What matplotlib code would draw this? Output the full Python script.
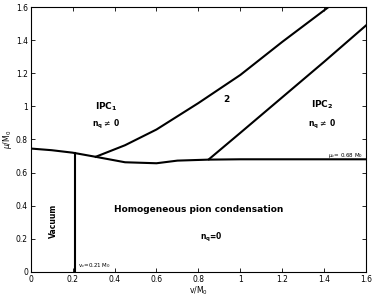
import matplotlib
matplotlib.use("Agg")
import matplotlib.pyplot as plt

# critical line mu_c(v) separating vacuum/IPC from homogeneous phase
crit_v = [0.0, 0.1, 0.2, 0.31, 0.45, 0.6, 0.7, 0.85, 1.0, 1.2, 1.4, 1.6]
crit_mu = [0.745, 0.735, 0.72, 0.695, 0.662, 0.656, 0.672, 0.678, 0.68, 0.68, 0.68, 0.68]

# IPC1 / phase-2 boundary
ipc1_v = [0.31, 0.45, 0.6, 0.8, 1.0, 1.2, 1.42]
ipc1_mu = [0.695, 0.765, 0.86, 1.02, 1.19, 1.39, 1.6]

# phase-2 / IPC2 boundary
ipc2_v = [0.85, 1.0, 1.2, 1.4, 1.6]
ipc2_mu = [0.68, 0.84, 1.055, 1.27, 1.49]

# vacuum boundary v_c
vac_v = [0.21, 0.21]
vac_mu = [0.0, 0.72]

fig, ax = plt.subplots(figsize=(3.74, 2.97), dpi=100)
fig.subplots_adjust(left=0.082, right=0.979, top=0.976, bottom=0.085)

for xs, ys in [(crit_v, crit_mu), (ipc1_v, ipc1_mu), (ipc2_v, ipc2_mu), (vac_v, vac_mu)]:
    ax.plot(xs, ys, color="k", lw=1.5)

ax.set_xlim(0, 1.6)
ax.set_ylim(0, 1.6)
ax.set_xticks([0, 0.2, 0.4, 0.6, 0.8, 1, 1.2, 1.4, 1.6])
ax.set_yticks([0, 0.2, 0.4, 0.6, 0.8, 1, 1.2, 1.4, 1.6])
ax.set_xticklabels(["0", "0.2", "0.4", "0.6", "0.8", "1", "1.2", "1.4", "1.6"])
ax.set_yticklabels(["0", "0.2", "0.4", "0.6", "0.8", "1", "1.2", "1.4", "1.6"])
ax.tick_params(direction="in", top=True, right=True, labelsize=5.5, length=3, width=0.6, pad=2)
for s in ax.spines.values():
    s.set_linewidth(0.8)

ax.set_xlabel(r"v/M$_0$", fontsize=5.5, labelpad=1)
ax.set_ylabel(r"$\mu$/M$_0$", fontsize=5.5, labelpad=1)

bold = dict(fontsize=6.5, fontweight="bold", ha="center", va="center")
small = dict(fontsize=5.5, fontweight="bold", ha="center", va="center")
ax.text(0.36, 1.0, r"IPC$_\mathbf{1}$", **bold)
ax.text(0.36, 0.89, r"n$_\mathbf{q}$$\neq$ 0", **small)
ax.text(0.935, 1.04, "2", **bold)
ax.text(1.39, 1.01, r"IPC$_\mathbf{2}$", **bold)
ax.text(1.39, 0.89, r"n$_\mathbf{q}$$\neq$ 0", **small)
ax.text(0.8, 0.375, "Homogeneous pion condensation", **bold)
ax.text(0.86, 0.21, r"n$_\mathbf{q}$=0", **small)
ax.text(0.11, 0.31, "Vacuum", rotation=90, **small)
ax.text(1.5, 0.705, r"$\mu_c$= 0.68 M$_0$", fontsize=4, ha="center", va="center")
ax.text(0.225, 0.04, r"v$_c$=0.21 M$_0$", fontsize=4, ha="left", va="center")

fig.savefig("out.png", dpi=100)
